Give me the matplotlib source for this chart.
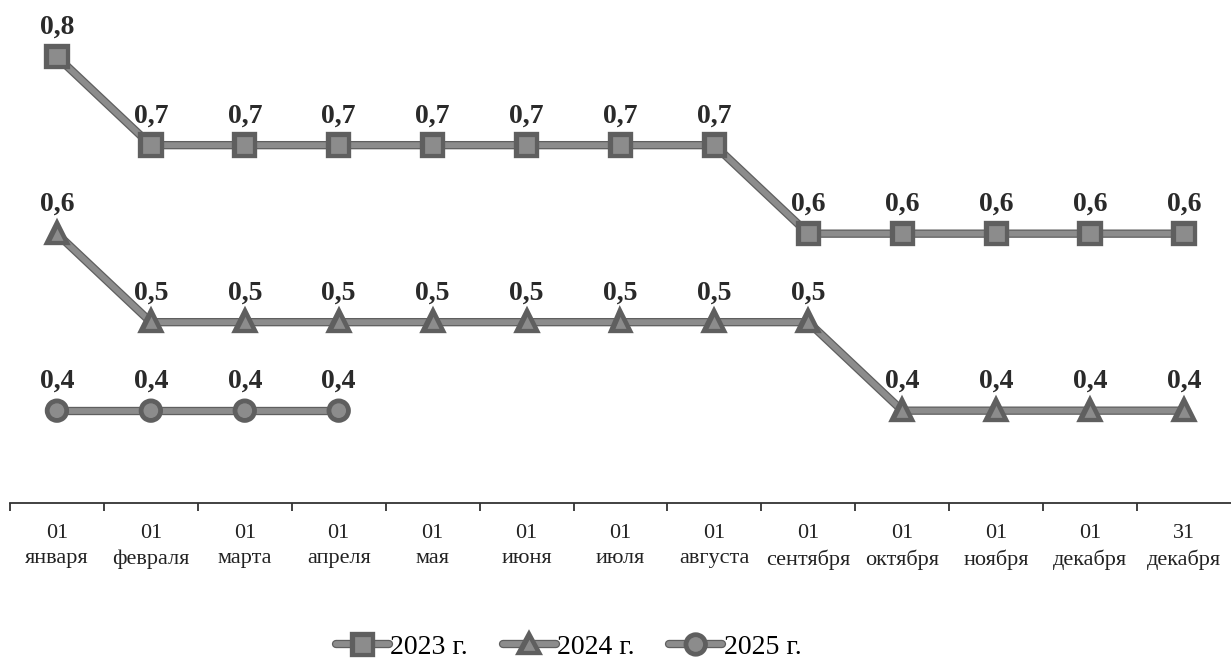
import matplotlib
matplotlib.use("Agg")
import matplotlib.pyplot as plt
import matplotlib.patheffects as pe
from matplotlib.ticker import FixedLocator

plt.rcParams["font.family"] = ["Liberation Serif", "DejaVu Serif"]

DATES = ["01\nянваря", "01\nфевраля", "01\nмарта", "01\nапреля", "01\nмая",
         "01\nиюня", "01\nиюля", "01\nавгуста", "01\nсентября", "01\nоктября",
         "01\nноября", "01\nдекабря", "31\nдекабря"]

Y2023 = [0.8, 0.7, 0.7, 0.7, 0.7, 0.7, 0.7, 0.7, 0.6, 0.6, 0.6, 0.6, 0.6]
Y2024 = [0.6, 0.5, 0.5, 0.5, 0.5, 0.5, 0.5, 0.5, 0.5, 0.4, 0.4, 0.4, 0.4]
Y2025 = [0.4, 0.4, 0.4, 0.4]

SERIES = [
    ("2023 г.", Y2023, "s", 12.5),
    ("2024 г.", Y2024, "^", 10),
    ("2025 г.", Y2025, "o", 11.5),
]

LINE_COLOR = "#8c8c8c"
EDGE_COLOR = "#5f5f5f"

fig = plt.figure(figsize=(12.31, 6.58), dpi=100)
ax = fig.add_axes([0.0081, 0.236, 0.9919, 0.764])

effects = [pe.Stroke(linewidth=6, foreground=EDGE_COLOR), pe.Normal()]

for name, vals, mk, ms in SERIES:
    xs = list(range(len(vals)))
    ax.plot(xs, vals, color=LINE_COLOR, linewidth=4.2, marker=mk, markersize=ms,
            markerfacecolor=LINE_COLOR, markeredgecolor=EDGE_COLOR,
            markeredgewidth=0.9, path_effects=effects, label=name,
            solid_capstyle="round", zorder=3)
    for x, v in zip(xs, vals):
        ax.annotate(f"{v:.1f}".replace(".", ","), (x, v), xytext=(0, 21),
                    textcoords="offset points", ha="center", va="center",
                    fontsize=20, fontweight="bold", color="#2a2a2a")

ax.set_xlim(-0.5, 12.5)
ax.set_ylim(0.296, 0.864)

for s in ["top", "right", "left"]:
    ax.spines[s].set_visible(False)
ax.spines["bottom"].set_color("#333333")
ax.spines["bottom"].set_linewidth(1.3)
ax.set_yticks([])

ax.set_xticks(range(len(DATES)))
ax.set_xticklabels(DATES, fontsize=16, color="#222222", linespacing=1.45)
ax.tick_params(axis="x", which="major", length=0, pad=15)
ax.xaxis.set_minor_locator(FixedLocator([i - 0.5 for i in range(len(DATES))]))
ax.tick_params(axis="x", which="minor", length=6, width=1.3, color="#333333")

fig.legend(loc="center", bbox_to_anchor=(0.462, 0.016), ncol=3, frameon=False,
           fontsize=20, handlelength=1.9, handletextpad=0.05, columnspacing=1.25)

fig.savefig("out.png", dpi=100)
